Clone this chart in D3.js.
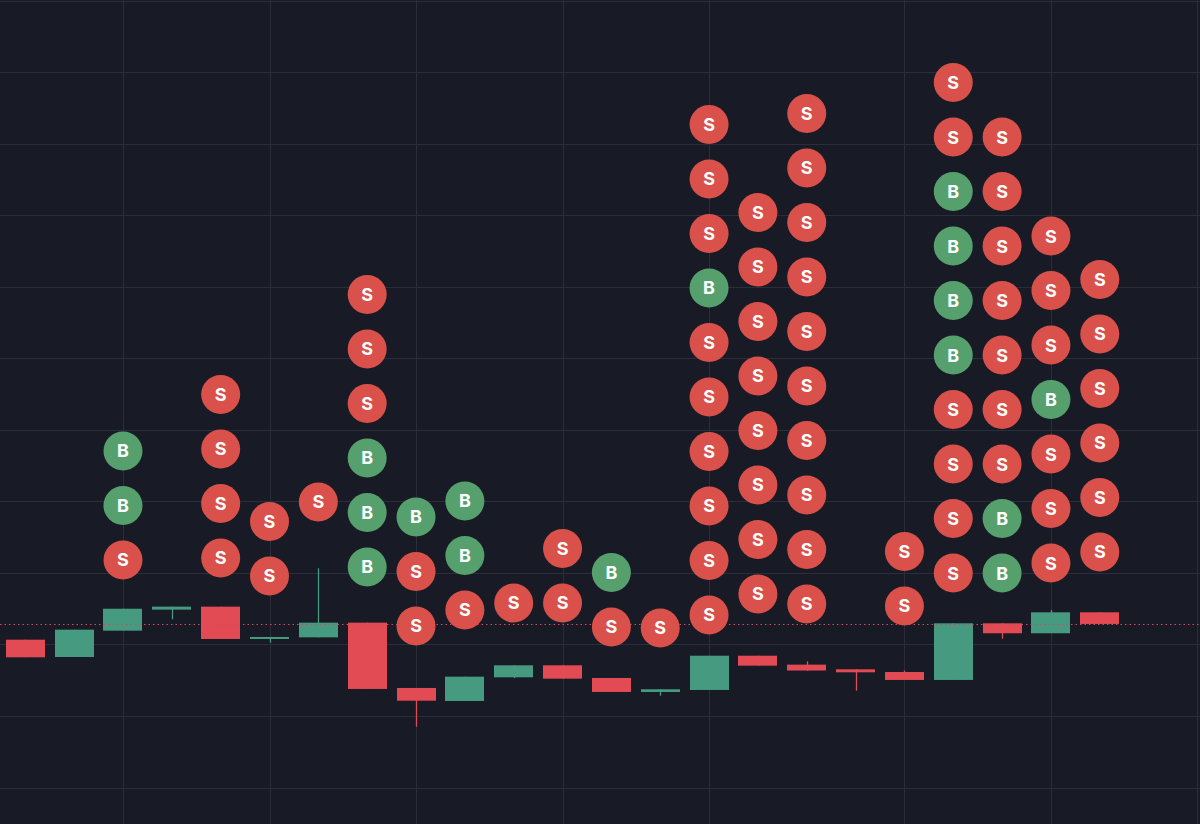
<!DOCTYPE html>
<html><head><meta charset="utf-8">
<script src="https://cdn.jsdelivr.net/npm/d3@7"></script>
<style>html,body{margin:0;padding:0;background:#181b25;}svg{display:block;}</style>
</head><body>
<svg id="chart" width="1200" height="824"></svg>
<script>
// ---- data ----
const opens  = [100.67, 98.25,101.93,104.87,105.29,100.77,101.00,103.05, 93.92, 92.10, 95.41, 97.09, 95.32, 93.36, 93.64, 98.43, 97.18, 96.53, 96.15, 95.04,102.96,101.57,104.50];
const highs  = [100.67,102.07,105.00,105.29,105.29,101.05,110.65,103.05, 93.92, 95.50, 97.09, 97.09, 95.32, 93.74, 98.43, 98.43, 97.65, 96.53, 96.34,102.96,102.96,104.82,104.50];
const lows   = [ 98.21, 98.25,101.93,103.52,100.77,100.25,101.00, 93.78, 88.50, 92.10, 95.30, 95.22, 93.36, 92.84, 93.64, 97.04, 96.30, 93.54, 95.04, 95.04,100.81,101.57,102.87];
const closes = [ 98.21,102.07,105.00,105.29,100.77,101.05,103.05, 93.78, 92.14, 95.50, 97.09, 95.22, 93.36, 93.74, 98.43, 97.04, 96.36, 96.11, 95.04,102.96,101.57,104.50,102.87];

// trade markers: candle index, price of lowest marker, stack from bottom up
const markerIndex = [2, 4, 5, 6, 7, 8, 9, 10, 11, 12, 13, 14, 15, 16, 18, 19, 20, 21, 22];
const markerBase  = [111.81,112.09,109.58,119.92,110.84,102.59,104.83,105.80,105.80,102.45,102.31,104.12,107.06,105.66,105.38,109.99,109.99,111.39,112.93];
const markerStack = ["SBB","SSSS","SS","S","BBBSSS","SSB","SBB","S","SS","SB","S","SSSSSSBSSS","SSSSSSSS","SSSSSSSSSS","SS","SSSSBBBBSS","BBSSSSSSS","SSSBSSS","SSSSSS"];

const priceTicks = [80,90,100,110,120,130,140,150,160,170,180,190];
const timeTicks  = [2,5,8,11,14,18,21,24];

// ---- layout ----
const W = 1200, H = 824;
const svg = d3.select("#chart");
const x = d3.scaleLinear().domain([0, 24]).range([25.3, 25.3 + 48.84*24]);
const y = d3.scaleLinear().domain([74.9, 190.11]).range([H, 0]);
const bodyW = 39;
const stackGap = 54.5;
const R = 19.5;

const C = {bg:"#181b25", grid:"#2a2e3a", up:"#469a80", down:"#e24b53", mUp:"#55a06c", mDown:"#d9514a", line:"#d9475f"};

svg.append("rect").attr("width",W).attr("height",H).attr("fill",C.bg);

const g = svg.append("g");
g.selectAll("line.h").data(priceTicks).join("line").attr("class","h")
  .attr("x1",0).attr("x2",W)
  .attr("y1",d=>Math.round(y(d))+0.5).attr("y2",d=>Math.round(y(d))+0.5)
  .attr("stroke",C.grid).attr("stroke-width",1);
g.selectAll("line.v").data(timeTicks).join("line").attr("class","v")
  .attr("y1",0).attr("y2",H)
  .attr("x1",d=>Math.round(x(d))+0.5).attr("x2",d=>Math.round(x(d))+0.5)
  .attr("stroke",C.grid).attr("stroke-width",1);

const candles = opens.map((o,i)=>({i,o,h:highs[i],l:lows[i],c:closes[i]}));
const cg = svg.append("g");
cg.selectAll("line.wick").data(candles).join("line").attr("class","wick")
  .attr("x1",d=>Math.round(x(d.i))+0.5).attr("x2",d=>Math.round(x(d.i))+0.5)
  .attr("y1",d=>y(d.h)).attr("y2",d=>y(d.l))
  .attr("stroke",d=>d.c>=d.o?C.up:C.down).attr("stroke-width",1.3);
cg.selectAll("rect.body").data(candles).join("rect").attr("class","body")
  .attr("x",d=>Math.round(x(d.i)-bodyW/2))
  .attr("width",bodyW)
  .attr("y",d=>y(Math.max(d.o,d.c)))
  .attr("height",d=>Math.max(2,Math.abs(y(d.o)-y(d.c))))
  .attr("fill",d=>d.c>=d.o?C.up:C.down);

// last price line
const last = closes[closes.length-1];
svg.append("line").attr("x1",0).attr("x2",W)
  .attr("y1",Math.round(y(last))+0.5).attr("y2",Math.round(y(last))+0.5)
  .attr("stroke",C.line).attr("stroke-width",1.2).attr("stroke-dasharray","1.5,3");

// markers
const marks = [];
markerIndex.forEach((ci,k)=>{
  markerStack[k].split("").forEach((t,j)=>marks.push({ci,t,base:markerBase[k],j}));
});
const mg = svg.append("g").selectAll("g").data(marks).join("g")
  .attr("transform",d=>`translate(${x(d.ci)},${y(d.base)-d.j*stackGap})`);
mg.append("circle").attr("r",R).attr("fill",d=>d.t==="B"?C.mUp:C.mDown);
mg.append("text").text(d=>d.t)
  .attr("text-anchor","middle").attr("dy","0.36em")
  .attr("fill","#ffffff").attr("font-family","Inter, 'Noto Sans', sans-serif")
  .attr("font-weight",700).attr("font-size",18);
</script>
</body></html>
